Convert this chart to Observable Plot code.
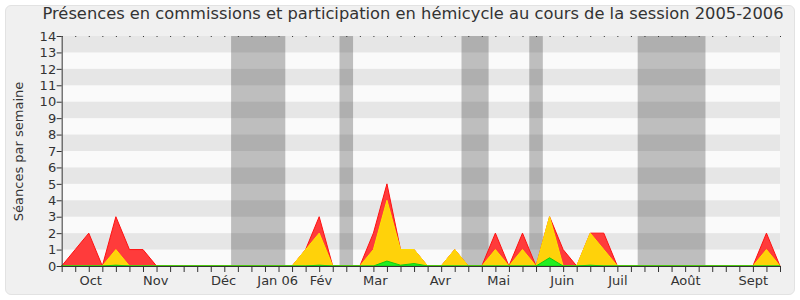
<!DOCTYPE html>
<html>
<head>
<meta charset="utf-8">
<script src="https://cdn.jsdelivr.net/npm/d3@7"></script>
<script src="https://cdn.jsdelivr.net/npm/@observablehq/plot@0.6"></script>
<style>
  html, body { margin: 0; padding: 0; background: #ffffff; }
  #frame {
    position: absolute; left: 5px; top: 5px; width: 788px; height: 288px;
    background: #f0f0f0; border: 1px solid #e2e2e2; border-radius: 6px;
  }
  #wrap { position: absolute; left: 0; top: 0; width: 800px; height: 300px; }
  #title {
    line-height: 22px; text-align: center; white-space: nowrap;
    font-family: "DejaVu Sans", sans-serif; font-size: 16.3px; color: #333;
    padding-left: 26px; padding-top: 3px; box-sizing: border-box; height: 22px;
  }
  svg { display: block; }
</style>
</head>
<body>
<div id="frame"></div>
<div id="wrap">
  <div id="title">Présences en commissions et participation en hémicycle au cours de la session 2005-2006</div>
  <div id="chart"></div>
</div>
<script>
// Weekly values, week index 0..53
const red    = [0,1,2,0,3,1,1,0,0,0, 0,0,0,0,0,0,0,0,1,3, 0,0,0,2,5,1,1,0,0,1, 0,0,2,0,2,0,3,1,0,2, 2,0,0,0,0,0,0,0,0,0, 0,0,2,0];
const yellow = [0,0,0,0,1,0,0,0,0,0, 0,0,0,0,0,0,0,0,1,2, 0,0,0,1,4,1,1,0,0,1, 0,0,1,0,1,0,3,0,0,2, 1,0,0,0,0,0,0,0,0,0, 0,0,1,0];
const green  = [0,0,0,0,0.05,0,0,0,0,0, 0,0,0,0,0,0,0,0,0,0.05, 0,0,0,0,0.3,0.05,0.15,0,0,0, 0,0,0,0,0,0,0.5,0,0,0.05, 0,0,0,0,0,0,0,0,0,0, 0,0,0,0];

// Holiday (vacation) periods, in week index units
const holidayStart = [12.5, 20.5, 29.5, 34.5, 42.5];
const holidayEnd   = [16.5, 21.5, 31.5, 35.5, 47.5];

// Month tick labels
const monthLabels = ["Oct","Nov","Déc","Jan 06","Fév","Mar","Avr","Mai","Juin","Juil","Août","Sept"];
const monthPos    = [2.1, 6.9, 11.9, 15.9, 19.1, 23.1, 27.9, 32.2, 36.9, 41, 46, 51];

const yTicks = d3.range(0, 15);

const weeks = red.map((r, i) => ({i, red: r, yellow: yellow[i], green: green[i]}));
const holidays = holidayStart.map((s, k) => ({x1: s, x2: holidayEnd[k]}));
const stripes = d3.range(1, 14, 2).map(v => ({y1: v, y2: v + 1}));
const months = monthLabels.map((m, k) => ({label: m, x: monthPos[k]}));

const chart = Plot.plot({
  width: 800,
  height: 278,
  marginLeft: 61.67,
  marginRight: 20,
  marginTop: 14,
  marginBottom: 34,
  style: {background: "transparent", fontFamily: "DejaVu Sans, sans-serif", fontSize: "13px", color: "#333"},
  x: {type: "linear", domain: [0, 53], axis: null},
  y: {domain: [0, 14], axis: null},
  marks: [
    Plot.rect([{}], {x1: 0, x2: 53, y1: 0, y2: 14, fill: "#fafafa"}),
    Plot.rect(stripes, {x1: 0, x2: 53, y1: "y1", y2: "y2", fill: "#e6e6e6"}),
    Plot.rect(holidays, {x1: "x1", x2: "x2", y1: 0, y2: 14, fill: "#000", fillOpacity: 0.24}),
    Plot.areaY(weeks, {x: "i", y: "red", fill: "#ff3b3b", stroke: "#ff1010", strokeWidth: 1}),
    Plot.areaY(weeks, {x: "i", y: "yellow", fill: "#ffd20a", stroke: "#ffe400", strokeWidth: 1}),
    Plot.areaY(weeks, {x: "i", y: "green", fill: "#22ee22", stroke: "#11cc11", strokeWidth: 1}),
    Plot.ruleY([0], {stroke: "#333", strokeWidth: 1}),
    Plot.ruleX([0], {stroke: "#333", strokeWidth: 1}),
    Plot.axisX({ticks: weeks.map(d => d.i), tickSize: 6, tickFormat: () => "", stroke: "#333"}),
    Plot.axisX({anchor: "top", ticks: weeks.map(d => d.i), tickSize: 1, tickFormat: () => "", stroke: "#333"}),
    Plot.text(months, {x: "x", text: "label", frameAnchor: "bottom", dy: 18, fill: "#333", fontSize: 13}),
    Plot.axisY({ticks: yTicks, tickSize: 5, tickPadding: 1, stroke: "#333", fill: "#333", fontSize: 13, label: null}),
    Plot.text(["Séances par semaine"], {frameAnchor: "left", dx: -43, rotate: -90, textAnchor: "middle", fill: "#333", fontSize: 13})
  ]
});
document.getElementById("chart").appendChild(chart);
</script>
</body>
</html>
